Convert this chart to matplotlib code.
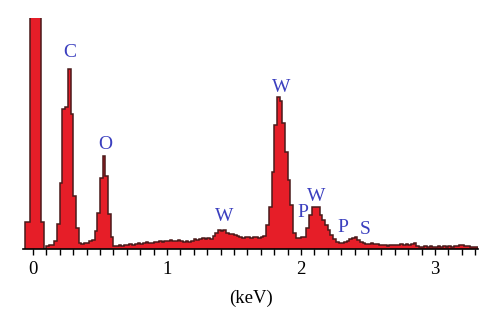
import numpy as np
import matplotlib.pyplot as plt

# EDS spectrum, 0.02 keV channels starting at -0.06 keV (counts in arbitrary units)
bin_start = -0.06
bin_width = 0.02
counts = [
    27, 27, 500, 500, 500, 500, 27, 0,                      # -0.06 .. 0.08
    3, 4, 4, 8, 25, 66, 140, 142, 180, 135,                 # 0.10 .. 0.28
    53, 21, 6, 5, 6, 6, 8, 9, 18, 36,                       # 0.30 .. 0.48
    71, 93, 73, 35, 12, 3, 3, 4, 3, 4,                      # 0.50 .. 0.68
    4, 5, 4, 5, 6, 5, 6, 7, 6, 6,                           # 0.70 .. 0.88
    7, 7, 8, 7, 8, 8, 9, 8, 8, 9,                           # 0.90 .. 1.08
    8, 7, 8, 7, 8, 10, 9, 10, 11, 10,                       # 1.10 .. 1.28
    11, 10, 13, 16, 19, 18, 19, 16, 15, 15,                 # 1.30 .. 1.48
    14, 13, 12, 11, 12, 12, 11, 12, 12, 11,                 # 1.50 .. 1.68
    12, 13, 24, 42, 77, 124, 152, 148, 126, 97,             # 1.70 .. 1.88
    69, 44, 16, 11, 11, 12, 12, 21, 34, 42,                 # 1.90 .. 2.08
    42, 42, 34, 29, 24, 19, 14, 10, 7, 6,                   # 2.10 .. 2.28
    6, 7, 8, 10, 11, 12, 9, 7, 6, 5,                        # 2.30 .. 2.48
    5, 6, 5, 5, 4, 4, 4, 3, 4, 4,                           # 2.50 .. 2.68
    4, 4, 5, 4, 5, 4, 5, 6, 3, 2,                           # 2.70 .. 2.88
    2, 3, 2, 3, 2, 2, 3, 2, 3, 2,                           # 2.90 .. 3.08
    3, 2, 3, 3, 4, 4, 3, 3, 2, 2,                           # 3.10 .. 3.28
    2,                                                      # 3.30
]

# peak labels
elements = ['C', 'O', 'W', 'W', 'P', 'W', 'P', 'S']
label_kev = [0.276, 0.54, 1.425, 1.85, 2.01, 2.117, 2.31, 2.48]
label_h = [196, 104, 32, 161, 36, 52, 21, 19]

tick_labels = ['0', '1', '2', '3']

edges = bin_start + bin_width * np.arange(len(counts) + 1)

fig = plt.figure(figsize=(5, 3.28), dpi=100)
ax = fig.add_axes([0.046, 0.241, 0.91, 0.7043])

ax.stairs(counts, edges, fill=True, color='#e61e28', baseline=0)
ax.stairs(counts, edges, color='#4a1a1a', lw=1.1, baseline=0)

for el, xk, yh in zip(elements, label_kev, label_h):
    ax.text(xk, yh, el, ha='center', va='center', color='#3b3fbf',
            fontsize=14, family='Liberation Serif')

ax.set_xlim(-0.0746, 3.321)
ax.set_ylim(0, 231)

for s in ['left', 'right', 'top']:
    ax.spines[s].set_visible(False)
ax.spines['bottom'].set_linewidth(1.2)
ax.set_yticks([])

ax.set_xticks([0, 1, 2, 3])
ax.set_xticklabels(tick_labels, family='Liberation Serif', fontsize=13.5)
ax.set_xticks(np.arange(0, 3.31, 0.1), minor=True)
ax.tick_params(axis='x', which='both', direction='out', length=4, width=1, pad=5)
ax.set_xlabel('(keV)', family='Liberation Serif', fontsize=13.5, labelpad=8)

fig.savefig('out.png', dpi=100)
